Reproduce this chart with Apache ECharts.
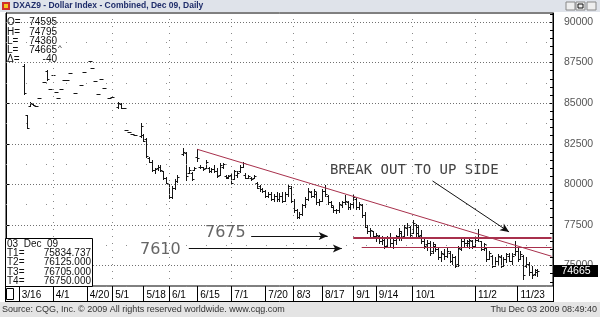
<!DOCTYPE html>
<html>
<head>
<meta charset="utf-8">
<script src="https://cdn.jsdelivr.net/npm/echarts@6/dist/echarts.min.js"></script>
<style>
html, body { margin: 0; padding: 0; background: #fff; }
#chart { width: 600px; height: 317px; }
</style>
</head>
<body>
<div id="chart"></div>
<script>
// trading days on the axis, exchange holidays skipped
const holidays = ['4/10', '5/25', '7/3', '9/7', '11/26'];
const dates = [];
for (let d = new Date(Date.UTC(2009, 2, 10)); dates.length < 193; d.setUTCDate(d.getUTCDate() + 1)) {
    const s = (d.getUTCMonth() + 1) + '/' + d.getUTCDate();
    if (d.getUTCDay() === 0 || d.getUTCDay() === 6 || holidays.includes(s)) continue;
    dates.push(s);
}
const tickDates = ['3/16', '4/1', '4/20', '5/1', '5/18', '6/1', '6/15', '7/1', '7/20', '8/3', '8/17', '9/1', '9/14', '10/1', '11/2', '11/23'];
const monthLines = ['4/1', '5/1', '6/1', '7/1', '8/3', '9/1', '10/1', '11/2'];
const priceLabels = [75000, 77500, 80000, 82500, 85000, 87500, 90000];

// [open, high, low, close] per trading day, null = no trade shown
const ohlc = [
    null, null, null, null, null, null,
    [87300, 87390, 85540, 85650], [84250, 84260, 83460, 83500], [84850, 85080, 84830, 85000], [84950, 84990, 84880, 84900],
    [84850, 84850, 84850, 84850], [85290, 85290, 85290, 85290], null, [86320, 86320, 86320, 86320],
    [87000, 87050, 86420, 86500], [85900, 85900, 85900, 85900], [86730, 86730, 86730, 86730], [85700, 85700, 85700, 85700],
    [85350, 85350, 85350, 85350], [85900, 85900, 85900, 85900], [86400, 86400, 86400, 86400], [86450, 86450, 86450, 86450],
    [86830, 86830, 86830, 86830], null, [85600, 85600, 85600, 85600], null,
    [86110, 86110, 86110, 86110], [86930, 86930, 86930, 86930], null, [87590, 87590, 87590, 87590],
    [87140, 87140, 87140, 87140], [86360, 86360, 86360, 86360], [85540, 85540, 85540, 85540], [86520, 86520, 86520, 86520],
    [85910, 85910, 85910, 85910], null, [85330, 85330, 85330, 85330], [85400, 85400, 85400, 85400],
    null, [84750, 85060, 84700, 85000], [84950, 85000, 84690, 84700], [84700, 84700, 84700, 84700],
    [83330, 83330, 83330, 83330], [83210, 83210, 83210, 83210], [83090, 83090, 83090, 83090], [83020, 83020, 83020, 83020],
    null, [83000, 83770, 82900, 83600], [83050, 83100, 82650, 82700], [82800, 82840, 81670, 81750],
    [81600, 81700, 81350, 81400], [81400, 81480, 80800, 80900], [80900, 81000, 80700, 80950], [81000, 81170, 80900, 81100],
    [81100, 81200, 80850, 80900], [80800, 80850, 80300, 80400], [80400, 80430, 80060, 80100], [80000, 80050, 79140, 79200],
    [79200, 79900, 79140, 79800], [79800, 80300, 79700, 80200], [80200, 80560, 80120, 80450], null,
    [81900, 82220, 81790, 82000], [81950, 81980, 80250, 80500], [80700, 81050, 80680, 80900], [80700, 80740, 80250, 80300],
    [80900, 81050, 80900, 81000], [81700, 82160, 81420, 81650], [81100, 81170, 80990, 81050], [81050, 81100, 80900, 80950],
    [81000, 81480, 81000, 81400], [81000, 81050, 80740, 80800], [80800, 81000, 80740, 80950], [80950, 81170, 80740, 80800],
    [80800, 80990, 80430, 80500], [80600, 81300, 80600, 81200], [81100, 81300, 81000, 81250], [80500, 80560, 80370, 80400],
    [80450, 80550, 80370, 80500], [80600, 80680, 80060, 80100], [80300, 80860, 80300, 80800], [80600, 80800, 80430, 80700],
    [80800, 81170, 80740, 81100], [81100, 81360, 81050, 81300], [80600, 80680, 80370, 80400], [80400, 80600, 80370, 80500],
    [80400, 80430, 80250, 80300], [80400, 80560, 80370, 80500], [80100, 80120, 79750, 79800], [79900, 79940, 79600, 79700],
    [79700, 79800, 79500, 79600], [79600, 79630, 79200, 79300], [79300, 79500, 79200, 79400], [79400, 79500, 79050, 79100],
    [79100, 79400, 79000, 79300], [79300, 79500, 79000, 79100], [79100, 79450, 78950, 79300], [79300, 79500, 78900, 79000],
    [79000, 79500, 79000, 79400], [79400, 80000, 79300, 79900], [79800, 79900, 78900, 79000], [79000, 79100, 78300, 78400],
    [78400, 78500, 77900, 78000], [78000, 78300, 77950, 78200], [78200, 78800, 78100, 78700], [78700, 79200, 78600, 79100],
    [79100, 79750, 79050, 79600], [79500, 79600, 79200, 79300], [79300, 79700, 79200, 79600], [79400, 79500, 78800, 78900],
    [78900, 79100, 78700, 79000], [79000, 79700, 78950, 79600], [79600, 79940, 79300, 79400], [79300, 79350, 78800, 78900],
    [78900, 79000, 78600, 78700], [78600, 78650, 78300, 78400], [78400, 78500, 78250, 78450], [78450, 78900, 78300, 78800],
    [78700, 79000, 78600, 78900], [78900, 79320, 78800, 79000], [78900, 78950, 78500, 78600], [78600, 78850, 78500, 78800],
    [78800, 79320, 78600, 79200], [79100, 79150, 78500, 78600], [78600, 78900, 78500, 78800], [78700, 78800, 78000, 78100],
    [78100, 78300, 77400, 77500], [77400, 77500, 77000, 77100], [77100, 77300, 76800, 77200], [77100, 77150, 76700, 76800],
    [76800, 77000, 76500, 76900], [76800, 76900, 76400, 76500], [76500, 76850, 76300, 76700], [76600, 76650, 76100, 76200],
    [76200, 76800, 76150, 76700], [76700, 77000, 76200, 76400], [76400, 76700, 76100, 76600], [76600, 76900, 76300, 76800],
    [76800, 77300, 76600, 77100], [77000, 77100, 76550, 76700], [76800, 77500, 76800, 77400], [77300, 77650, 76900, 77500],
    [77400, 77450, 76800, 76900], [77000, 77780, 77000, 77600], [77500, 77550, 76850, 77000], [77400, 77500, 76730, 76800],
    [76900, 77160, 76360, 76500], [76500, 76730, 76050, 76200], [76300, 76600, 75930, 76400], [76400, 76500, 75620, 75800],
    [75900, 76420, 75800, 76300], [76200, 76300, 75900, 76000], [76000, 76050, 75400, 75500], [75500, 75900, 75310, 75800],
    [75700, 76000, 75400, 75600], [75600, 76050, 75500, 75900], [75800, 75900, 75200, 75300], [75300, 75700, 75120, 75500],
    [75500, 75600, 74880, 75000], [75100, 76200, 75000, 76100], [76000, 76670, 75930, 76500], [76500, 76730, 76230, 76400],
    [76400, 76600, 76200, 76500], [76400, 76750, 76100, 76600], [76500, 76600, 76050, 76200], [76200, 76700, 76200, 76600],
    [76600, 77240, 76540, 76700], [76500, 76540, 75930, 76000], [76000, 76400, 75930, 76300], [76100, 76100, 75310, 75400],
    [75400, 75900, 75400, 75800], [75600, 75620, 74880, 75000], [75000, 75500, 74950, 75300], [75300, 75700, 75120, 75600],
    [75500, 75620, 74880, 75000], [75000, 75500, 74950, 75400], [75400, 75800, 75200, 75700], [75600, 75750, 75250, 75300],
    [75300, 75800, 75120, 75600], [75700, 76540, 75620, 75900], [75900, 76050, 75310, 75400], [75400, 75900, 75400, 75700],
    [75600, 75620, 74200, 74400], [75000, 75500, 74900, 75100], [75100, 75200, 74400, 74600], [74600, 75000, 74260, 74400],
    [74500, 74800, 74400, 74705], [74595, 74795, 74360, 74665]
];
// drawn study lines: trend line and the two support levels (T1..T4)
const trendLine = [['6/15', 82160], ['12/10', 75570]];
const levels = [['9/1', 76750], ['9/1', 76705], ['9/4', 76125]];
const lastPrice = 74665;

const barData = [];
ohlc.forEach((v, i) => { if (v) barData.push([i, v[0], v[1], v[2], v[3]]); });

function drawBar(params, api) {
    const i = api.value(0);
    const h = api.coord([i, api.value(2)]);
    const l = api.coord([i, api.value(3)]);
    const o = api.coord([i, api.value(1)]);
    const c = api.coord([i, api.value(4)]);
    const x = Math.round(h[0]) + 0.5;
    const oy = Math.round(o[1]) + 0.5, cy = Math.round(c[1]) + 0.5;
    const st = { stroke: '#151515', lineWidth: 1 };
    return {
        type: 'group',
        children: [
            { type: 'line', shape: { x1: x, y1: Math.round(h[1]), x2: x, y2: Math.round(l[1]) + 1 }, style: st },
            { type: 'line', shape: { x1: x - 2, y1: oy, x2: x, y2: oy }, style: st },
            { type: 'line', shape: { x1: x, y1: cy, x2: x + 2, y2: cy }, style: st }
        ]
    };
}

const gridLines = [];
priceLabels.forEach(v => {
    gridLines.push({ yAxis: v, lineStyle: { color: '#707070', type: [1, 2], width: 1 } });
    gridLines.push({ yAxis: v + 1250, lineStyle: { color: '#909090', type: [1, 19], width: 1 } });
});
gridLines.push({ yAxis: 73750, lineStyle: { color: '#909090', type: [1, 19], width: 1 } });
monthLines.forEach(d => {
    gridLines.push({ xAxis: d, lineStyle: { color: '#888', type: [1, 6], width: 1 } });
});

const minorTicks = [];
for (let v = 74000; v <= 90500; v += 500) minorTicks.push(v);

const red = '#a8304c';
const studyLines = [
    [{ coord: trendLine[0] }, { coord: trendLine[1] }],
    [{ coord: levels[0] }, { coord: ['12/10', levels[0][1]] }],
    [{ coord: levels[1] }, { coord: ['12/10', levels[1][1]] }],
    [{ coord: levels[2] }, { coord: ['12/10', levels[2][1]] }]
];
const arrow = { color: '#111', width: 1, type: 'solid' };
const arrowLines = [
    [{ coord: ['7/13', 76820] }, { coord: ['8/19', 76820], symbol: 'arrow', symbolSize: [6, 9] }],
    [{ coord: ['6/10', 76050] }, { coord: ['8/26', 76050], symbol: 'arrow', symbolSize: [6, 9] }],
    [{ coord: ['10/12', 80210] }, { coord: ['11/18', 77070], symbol: 'arrow', symbolSize: [6, 9] }]
];

const font = 'Liberation Sans';
const chart = echarts.init(document.getElementById('chart'));
const txt = (x, y, s, opt) => Object.assign({
    type: 'text', x: x, y: y, z: 20,
    style: Object.assign({ text: s, fill: '#111', font: '10px "' + font + '"', textVerticalAlign: 'middle' }, opt || {})
});

const option = {
    animation: false,
    backgroundColor: '#fff',
    grid: {
        left: 6, right: 47, top: 13, bottom: 31,
        show: true, backgroundColor: '#fff', borderColor: '#000', borderWidth: 1
    },
    xAxis: {
        type: 'category',
        data: dates,
        boundaryGap: true,
        axisLine: { show: false },
        axisTick: {
            show: true, alignWithLabel: true, length: 15,
            interval: (i, v) => tickDates.includes(v),
            lineStyle: { color: '#000', width: 1 }
        },
        axisLabel: {
            interval: (i, v) => tickDates.includes(v),
            align: 'left', margin: 4, padding: [0, 0, 0, 3],
            color: '#000', fontSize: 10, fontFamily: font
        },
        splitLine: { show: false }
    },
    yAxis: [{
        type: 'value', position: 'right',
        min: 73740, max: 90555,
        axisLine: { show: true, lineStyle: { color: '#000' } },
        axisTick: { show: true, inside: true, length: 3, customValues: minorTicks, lineStyle: { color: '#000' } },
        axisLabel: {
            customValues: priceLabels, formatter: v => String(v),
            color: '#555', fontSize: 10.5, fontFamily: font, margin: 11
        },
        splitLine: { show: false }
    }, {
        type: 'value', position: 'left',
        min: 73740, max: 90555,
        axisLine: { show: true, lineStyle: { color: '#000' } },
        axisTick: { show: true, inside: true, length: 3, customValues: priceLabels, lineStyle: { color: '#000' } },
        axisLabel: { show: false },
        splitLine: { show: false }
    }],
    series: [{
        type: 'line', data: [], z: 1, silent: true,
        markLine: { silent: true, symbol: ['none', 'none'], label: { show: false }, data: gridLines, animation: false }
    }, {
        type: 'custom', name: 'DXAZ9', z: 3,
        renderItem: drawBar,
        encode: { x: 0, y: [1, 2, 3, 4] },
        data: barData
    }, {
        type: 'line', data: [], z: 4, silent: true,
        markLine: {
            silent: true, symbol: ['none', 'none'], label: { show: false },
            lineStyle: { color: red, width: 1, type: 'solid' },
            data: studyLines, animation: false
        }
    }, {
        type: 'line', data: [], z: 5, silent: true,
        markLine: {
            silent: true, symbol: ['none', 'none'], label: { show: false },
            lineStyle: arrow, data: arrowLines, animation: false
        }
    }],
    graphic: [
        // title bar
        { type: 'rect', z: 20, shape: { x: 0, y: 0, width: 600, height: 12 }, style: { fill: '#dfe3ea' } },
        { type: 'rect', z: 21, shape: { x: 2, y: 2, width: 8, height: 8 }, style: { fill: '#d0302a' } },
        { type: 'rect', z: 22, shape: { x: 4, y: 4, width: 4, height: 4 }, style: { fill: '#f3c820' } },
        txt(13, 6, 'DXAZ9 - Dollar Index - Combined, Dec 09, Daily', { fill: '#1f2d6a', font: 'bold 8.5px "' + font + '"' }),
        { type: 'rect', z: 21, shape: { x: 566, y: 2, width: 9, height: 8 }, style: { fill: '#eeeeee', stroke: '#888' } },
        { type: 'rect', z: 21, shape: { x: 576, y: 2, width: 9, height: 8 }, style: { fill: '#eeeeee', stroke: '#888' } },
        { type: 'rect', z: 21, shape: { x: 587, y: 2, width: 9, height: 8 }, style: { fill: '#eeeeee', stroke: '#888' } },
        txt(568, 5, '_', { font: 'bold 8px "' + font + '"' }),
        { type: 'rect', z: 22, shape: { x: 578, y: 4, width: 5, height: 4 }, style: { fill: 'none', stroke: '#111' } },
        txt(589, 6, '×', { font: 'bold 9px "' + font + '"' }),

        // quote box top-left
        { type: 'rect', z: 2, shape: { x: 7, y: 14, width: 56, height: 49 }, style: { fill: '#fff' } },
        txt(7, 22, 'O='), txt(57, 22, '74595', { textAlign: 'right' }),
        txt(7, 32, 'H='), txt(57, 32, '74795', { textAlign: 'right' }),
        txt(7, 41, 'L='), txt(57, 41, '74360', { textAlign: 'right' }),
        txt(7, 50, 'L='), txt(57, 50, String(lastPrice), { textAlign: 'right' }), txt(58, 48, '^', { font: '8px "' + font + '"' }),
        txt(7, 59, 'Δ='), txt(57, 59, '-40', { textAlign: 'right' }),

        // study values box bottom-left
        { type: 'rect', z: 19, shape: { x: 5.5, y: 238.5, width: 87, height: 48 }, style: { fill: '#fff', stroke: '#000', lineWidth: 1 } },
        txt(7, 244, '03  Dec  09'),
        txt(7, 253, 'T1='), txt(91, 253, '75834.737', { textAlign: 'right' }),
        txt(7, 262, 'T2='), txt(91, 262, '76125.000', { textAlign: 'right' }),
        txt(7, 272, 'T3='), txt(91, 272, '76705.000', { textAlign: 'right' }),
        txt(7, 281, 'T4='), txt(91, 281, '76750.000', { textAlign: 'right' }),

        // date row frame
        { type: 'line', z: 20, shape: { x1: 5, y1: 301.5, x2: 554, y2: 301.5 }, style: { stroke: '#000', lineWidth: 1 } },
        { type: 'line', z: 20, shape: { x1: 5.5, y1: 286, x2: 5.5, y2: 302 }, style: { stroke: '#000', lineWidth: 1 } },
        { type: 'line', z: 20, shape: { x1: 553.5, y1: 286, x2: 553.5, y2: 302 }, style: { stroke: '#000', lineWidth: 1 } },
        { type: 'rect', z: 20, shape: { x: 6.5, y: 288.5, width: 7, height: 11 }, style: { fill: '#fff', stroke: '#000', lineWidth: 1 } },

        // last price tag
        { type: 'rect', z: 20, shape: { x: 554, y: 265, width: 44, height: 12 }, style: { fill: '#000' } },
        txt(576, 271.5, String(lastPrice), { fill: '#fff', textAlign: 'center', font: '10.5px "' + font + '"' }),

        // footer
        { type: 'rect', z: 20, shape: { x: 0, y: 302, width: 600, height: 15 }, style: { fill: '#e4e4e4' } },
        txt(2, 310, 'Source: CQG, Inc. © 2009 All rights reserved worldwide. www.cqg.com', { fill: '#333', font: '9px "' + font + '"' }),
        txt(597, 310, 'Thu Dec 03 2009 08:49:40', { fill: '#333', font: '9px "' + font + '"', textAlign: 'right' }),

        // hand-drawn notes
        txt(205, 233, '7675', { fill: '#666', font: '16px "DejaVu Sans"' }),
        txt(140, 250, '7610', { fill: '#666', font: '16px "DejaVu Sans"' }),
        txt(330, 170, 'BREAK OUT TO UP SIDE', { fill: '#444', font: '14px "DejaVu Sans Mono"' })
    ]
};
chart.setOption(option);
</script>
</body>
</html>
